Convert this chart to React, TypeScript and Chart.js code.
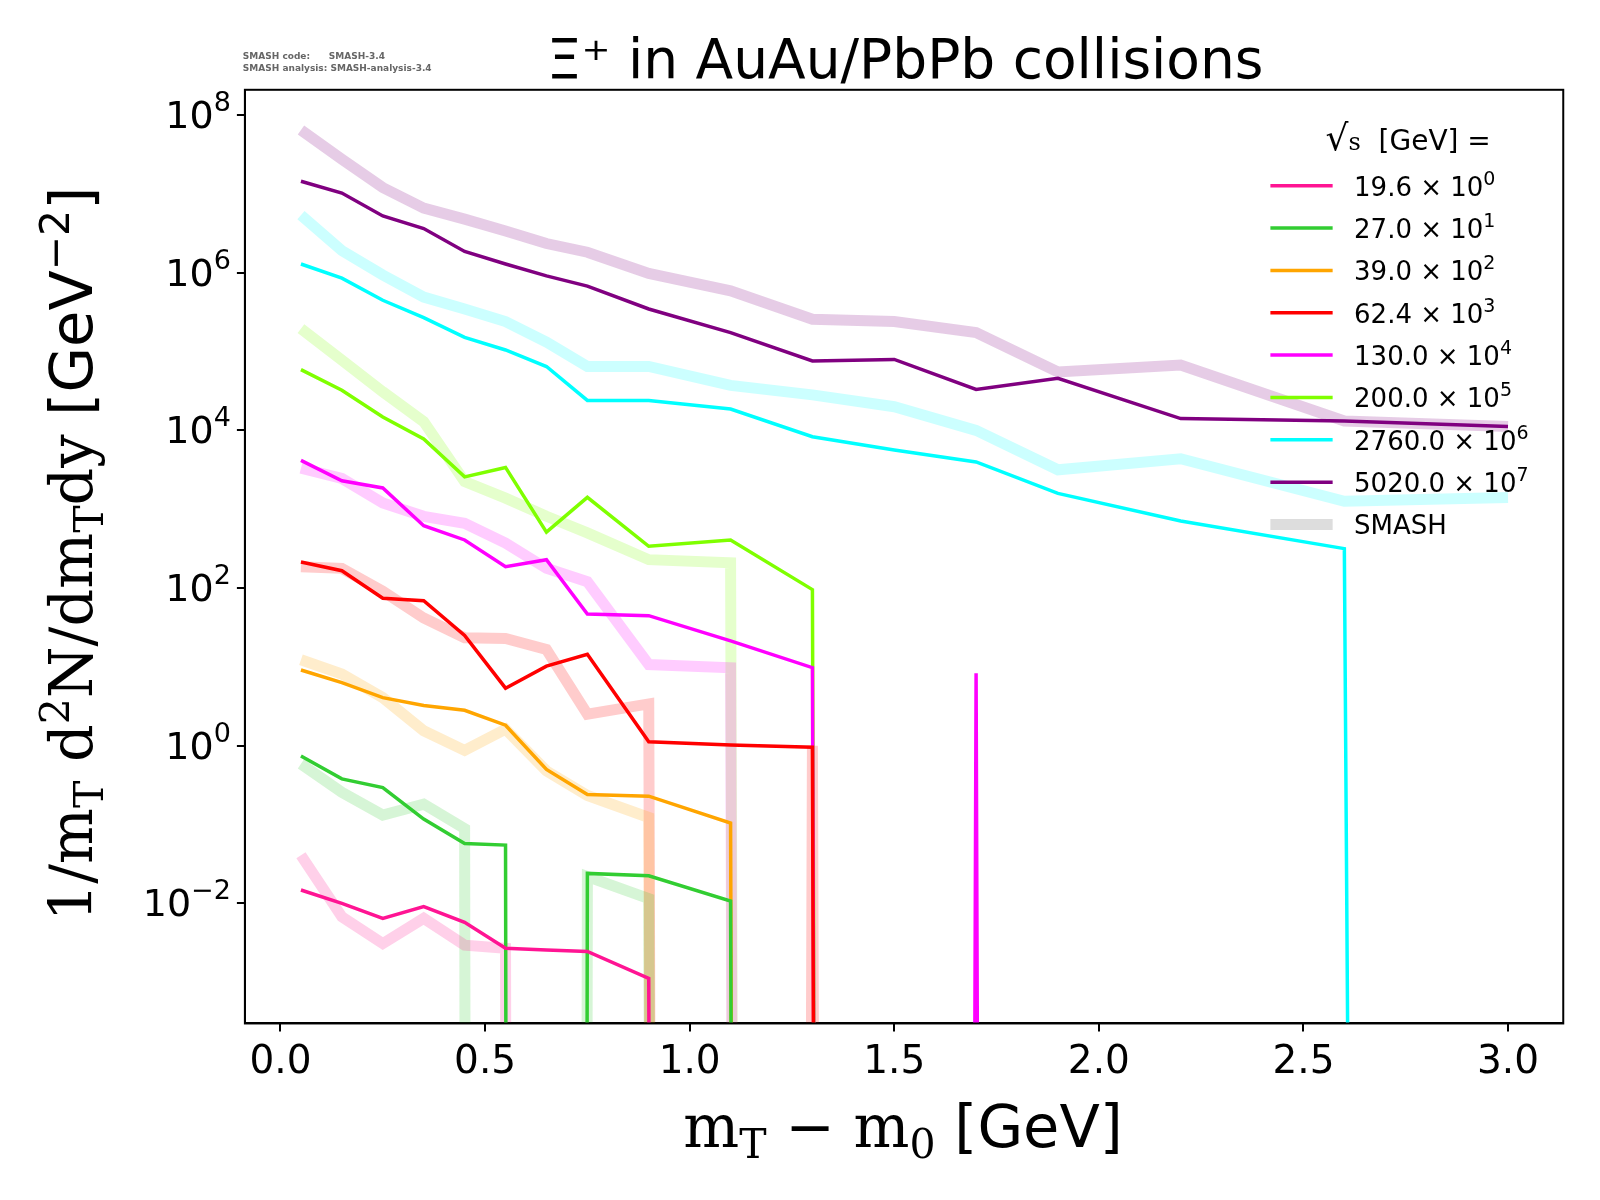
import React, { useEffect, useRef } from "react";
import { Chart, registerables } from "chart.js";
Chart.register(...registerables);

const xs = [0.05, 0.15, 0.25, 0.35, 0.45, 0.55, 0.65, 0.75, 0.9, 1.1, 1.3, 1.5, 1.7, 1.9, 2.2, 2.6, 3.0];
const energies = ["19.6", "27.0", "39.0", "62.4", "130.0", "200.0", "2760.0", "5020.0"];
const exps = ["0", "1", "2", "3", "4", "5", "6", "7"];
const colors = ["#ff1493", "#32cd32", "#ffa500", "#ff0000", "#ff00ff", "#7fff00", "#00ffff", "#800080"];
// log10 values (null = zero)
const N = null;
const dataLog: (number | null)[][] = [
  [-1.83, -2.0, -2.19, -2.04, -2.24, -2.57, -2.59, -2.61, -2.95, N, N, N, N, N, N, N, N],
  [-0.13, -0.42, -0.53, -0.93, -1.24, -1.26, N, -1.62, -1.65, -1.97, N, N, N, N, N, N, N],
  [0.96, 0.8, 0.61, 0.51, 0.45, 0.26, -0.3, -0.62, -0.64, -0.98, N, N, N, N, N, N, N],
  [2.33, 2.22, 1.87, 1.84, 1.4, 0.73, 1.01, 1.16, 0.05, 0.01, -0.02, N, N, N, N, N, N],
  [3.62, 3.36, 3.27, 2.79, 2.61, 2.27, 2.36, 1.67, 1.65, 1.33, 0.99, N, 0.92, N, N, N, N],
  [4.77, 4.51, 4.17, 3.89, 3.41, 3.53, 2.71, 3.15, 2.53, 2.61, 1.98, N, N, N, N, N, N],
  [6.11, 5.93, 5.65, 5.43, 5.18, 5.02, 4.81, 4.38, 4.38, 4.27, 3.92, 3.75, 3.6, 3.2, 2.85, 2.5, N],
  [7.16, 7.01, 6.72, 6.56, 6.27, 6.11, 5.96, 5.83, 5.54, 5.24, 4.88, 4.9, 4.52, 4.66, 4.15, 4.12, 4.05],
];
const smashLog: (number | null)[][] = [
  [-1.39, -2.17, -2.51, -2.19, -2.53, -2.57, N, N, N, N, N, N, N, N, N, N, N],
  [-0.23, -0.59, -0.88, -0.74, -1.05, N, N, -1.66, -1.94, N, N, N, N, N, N, N, N],
  [1.09, 0.91, 0.61, 0.19, -0.06, 0.21, -0.32, -0.63, -0.91, N, N, N, N, N, N, N, N],
  [2.27, 2.25, 1.96, 1.62, 1.37, 1.36, 1.22, 0.4, 0.53, N, 0.0, N, N, N, N, N, N],
  [3.52, 3.39, 3.08, 2.91, 2.82, 2.57, 2.25, 2.08, 1.03, 0.99, N, N, N, N, N, N, N],
  [5.29, 4.89, 4.49, 4.11, 3.35, 3.14, 2.91, 2.7, 2.36, 2.32, N, N, N, N, N, N, N],
  [6.73, 6.28, 5.97, 5.69, 5.54, 5.38, 5.12, 4.81, 4.81, 4.57, 4.45, 4.3, 4.0, 3.5, 3.64, 3.1, 3.15],
  [7.81, 7.44, 7.08, 6.82, 6.68, 6.53, 6.37, 6.26, 5.99, 5.77, 5.41, 5.38, 5.24, 4.74, 4.83, 4.12, 4.05],
];
const yTicks = [1e-2, 1, 1e2, 1e4, 1e6, 1e8];
const yTickExps = ["−2", "0", "2", "4", "6", "8"];

const toPts = (arr: (number | null)[]) =>
  arr.map((v, i) => ({ x: xs[i], y: v === null ? 1e-300 : Math.pow(10, v) }));

function hexA(h: string, a: number) {
  const r = parseInt(h.slice(1, 3), 16), g = parseInt(h.slice(3, 5), 16), b = parseInt(h.slice(5, 7), 16);
  return `rgba(${r},${g},${b},${a})`;
}

const K = 1.0204;
const P = (v: number) => v * K;

type Seg = { t: string; f: string; s: number; dy?: number };
function segWidth(ctx: CanvasRenderingContext2D, segs: Seg[]) {
  let w = 0;
  segs.forEach((g) => { ctx.font = `${g.s}px ${g.f}`; w += ctx.measureText(g.t).width; });
  return w;
}
function richAt(ctx: CanvasRenderingContext2D, segs: Seg[], x: number, cy: number) {
  ctx.textBaseline = "alphabetic";
  ctx.textAlign = "left";
  segs.forEach((g) => {
    ctx.font = `${g.s}px ${g.f}`;
    ctx.fillText(g.t, x, cy + (g.dy || 0));
    x += ctx.measureText(g.t).width;
  });
}
function rich(ctx: CanvasRenderingContext2D, segs: Seg[], cx: number, cy: number) {
  richAt(ctx, segs, cx - segWidth(ctx, segs) / 2, cy);
}

const SERIF = "'DejaVu Serif', serif";
const SANS = "'DejaVu Sans', sans-serif";

const deco = {
  id: "deco",
  afterDraw(chart: any) {
    const ctx: CanvasRenderingContext2D = chart.ctx;
    const a = chart.chartArea;
    const ys = chart.scales.y;
    ctx.save();
    ctx.strokeStyle = "#000";
    ctx.lineWidth = 2;
    ctx.strokeRect(a.left, a.top, a.right - a.left, a.bottom - a.top);
    ctx.fillStyle = "#000";
    // y tick labels
    yTicks.forEach((t, i) => {
      const y = ys.getPixelForValue(t);
      const segs: Seg[] = [{ t: "10", f: SANS, s: 38 }, { t: yTickExps[i], f: SANS, s: 27, dy: -17 }];
      const w = segWidth(ctx, segs);
      richAt(ctx, segs, a.left - 14 - w, y + 13);
    });
    rich(ctx, [{ t: "Ξ⁺ in AuAu/PbPb collisions", f: SANS, s: 55 }], P(887), P(76));
    ctx.fillStyle = "#666";
    ctx.font = `bold 9px ${SANS}`;
    ctx.fillText("SMASH code:      SMASH-3.4", P(238), P(58));
    ctx.fillText("SMASH analysis: SMASH-analysis-3.4", P(238), P(70));
    ctx.fillStyle = "#000";
    rich(ctx, [
      { t: "m", f: SERIF, s: 59 }, { t: "T", f: SERIF, s: 41, dy: 11 },
      { t: " − m", f: SERIF, s: 59 }, { t: "0", f: SERIF, s: 41, dy: 11 },
      { t: " [GeV]", f: SANS, s: 59 },
    ], P(885), P(1124));
    ctx.save();
    ctx.translate(P(90), P(543));
    ctx.rotate(-Math.PI / 2);
    rich(ctx, [
      { t: "1/m", f: SERIF, s: 59 }, { t: "T", f: SERIF, s: 41, dy: 11 },
      { t: " d", f: SERIF, s: 59 }, { t: "2", f: SERIF, s: 41, dy: -23 },
      { t: "N/dm", f: SERIF, s: 59 }, { t: "T", f: SERIF, s: 41, dy: 11 },
      { t: "dy", f: SERIF, s: 59 },
      { t: " [GeV", f: SANS, s: 59 }, { t: "−2", f: SANS, s: 41, dy: -23 }, { t: "]", f: SANS, s: 59 },
    ], 0, 0);
    ctx.restore();
    rich(ctx, [{ t: "√", f: SANS, s: 36 }, { t: "s", f: SERIF, s: 24 }, { t: "  [GeV] =", f: SANS, s: 28 }], P(1380), P(147));
    ctx.lineCap = "butt";
    const rows = energies.length + 1;
    for (let i = 0; i < rows; i++) {
      const y = P(182 + i * 41.5);
      ctx.beginPath();
      ctx.moveTo(P(1245), y);
      ctx.lineTo(P(1306), y);
      if (i < energies.length) { ctx.strokeStyle = colors[i]; ctx.lineWidth = 3.5; }
      else { ctx.strokeStyle = "#dddddd"; ctx.lineWidth = 11; }
      ctx.stroke();
      ctx.fillStyle = "#000";
      if (i < energies.length) {
        richAt(ctx, [
          { t: `${energies[i]} × 10`, f: SANS, s: 26 },
          { t: exps[i], f: SANS, s: 19, dy: -11 },
        ], P(1327), y + 10);
      } else {
        richAt(ctx, [{ t: "SMASH", f: SANS, s: 26 }], P(1327), y + 10);
      }
    }
    ctx.restore();
  },
};

export default function App() {
  const ref = useRef<HTMLCanvasElement>(null);
  useEffect(() => {
    document.body.style.margin = "0";
    const datasets: any[] = [];
    dataLog.forEach((d, i) => datasets.push({
      data: toPts(d), borderColor: colors[i], borderWidth: 3.5, pointRadius: 0, fill: false, tension: 0,
    }));
    smashLog.forEach((d, i) => datasets.push({
      data: toPts(d), borderColor: hexA(colors[i], 0.2), borderWidth: 11, pointRadius: 0, fill: false, tension: 0,
    }));
    const chart = new Chart(ref.current!, {
      type: "line",
      data: { datasets },
      plugins: [deco],
      options: {
        animation: false,
        responsive: false,
        devicePixelRatio: 1,
        layout: { padding: { left: 0, right: 1600 - P(1532), top: P(88), bottom: 0 } },
        plugins: { legend: { display: false }, tooltip: { enabled: false } },
        scales: {
          x: {
            type: "linear", min: -0.087, max: 3.135,
            afterFit: (s: any) => { s.height = 1200 - P(1003); },
            afterBuildTicks: (s: any) => { s.ticks = [0, 0.5, 1, 1.5, 2, 2.5, 3].map((v) => ({ value: v })); },
            ticks: { color: "#000", font: { size: 39, family: SANS }, padding: 8, maxRotation: 0, callback: (v: any) => Number(v).toFixed(1) },
            grid: { drawOnChartArea: false, drawTicks: true, tickLength: 8, color: "#000", lineWidth: 2 },
            border: { color: "#000", width: 2 },
          },
          y: {
            type: "logarithmic", min: Math.pow(10, -3.48), max: Math.pow(10, 8.32),
            afterFit: (s: any) => { s.width = P(240); },
            afterBuildTicks: (s: any) => { s.ticks = yTicks.map((v) => ({ value: v })); },
            ticks: { color: "#000", font: { size: 35, family: SANS }, padding: 6, callback: () => "" },
            grid: { drawOnChartArea: false, drawTicks: true, tickLength: 8, color: "#000", lineWidth: 2 },
            border: { color: "#000", width: 2 },
          },
        },
      } as any,
    });
    return () => chart.destroy();
  }, []);
  return <canvas ref={ref} width={1600} height={1200} style={{ display: "block", width: 1600, height: 1200 }} />;
}
